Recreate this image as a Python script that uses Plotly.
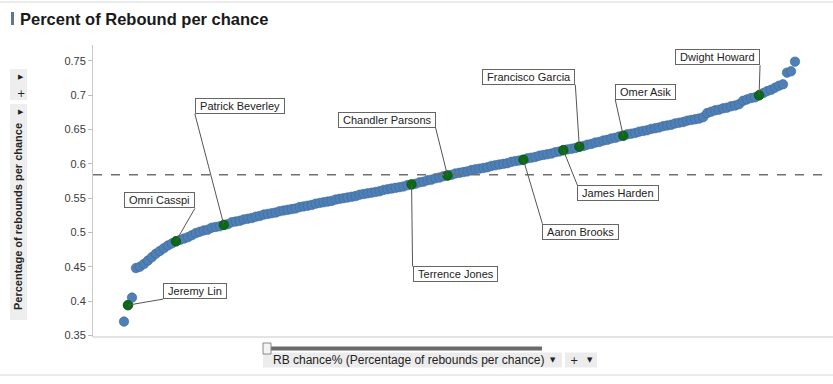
import plotly.graph_objects as go

# ---- data ----
rb_pct = [
    0.370, 0.394, 0.405, 0.448, 0.450, 0.454, 0.459, 0.464, 0.469, 0.473,
    0.477, 0.481, 0.484, 0.487, 0.489, 0.491, 0.493, 0.496, 0.499, 0.501,
    0.503, 0.504, 0.507, 0.508, 0.509, 0.511, 0.512, 0.515, 0.516, 0.517,
    0.519, 0.520, 0.521, 0.523, 0.524, 0.526, 0.527, 0.528, 0.529, 0.531,
    0.532, 0.533, 0.534, 0.535, 0.537, 0.538, 0.539, 0.540, 0.542, 0.543,
    0.544, 0.545, 0.546, 0.548, 0.549, 0.550, 0.551, 0.552, 0.553, 0.555,
    0.556, 0.557, 0.558, 0.559, 0.560, 0.562, 0.563, 0.564, 0.565, 0.566,
    0.567, 0.569, 0.570, 0.571, 0.573, 0.574, 0.576, 0.577, 0.579, 0.580,
    0.582, 0.583, 0.584, 0.586, 0.587, 0.588, 0.589, 0.591, 0.592, 0.593,
    0.594, 0.595, 0.597, 0.598, 0.599, 0.600, 0.601, 0.603, 0.604, 0.605,
    0.606, 0.608, 0.609, 0.610, 0.612, 0.613, 0.614, 0.615, 0.617, 0.618,
    0.620, 0.621, 0.622, 0.623, 0.625, 0.626, 0.628, 0.629, 0.631, 0.632,
    0.634, 0.635, 0.637, 0.638, 0.640, 0.641, 0.643, 0.644, 0.645, 0.647,
    0.648, 0.649, 0.651, 0.652, 0.653, 0.655, 0.656, 0.657, 0.659, 0.660,
    0.661, 0.663, 0.664, 0.665, 0.666, 0.668, 0.674, 0.676, 0.678, 0.679,
    0.681, 0.682, 0.684, 0.685, 0.687, 0.692, 0.694, 0.696, 0.697, 0.700,
    0.703, 0.706, 0.708, 0.711, 0.714, 0.716, 0.733, 0.735, 0.749,
]
rank = list(range(1, len(rb_pct) + 1))

highlight_names = ["Jeremy Lin", "Omri Casspi", "Patrick Beverley", "Terrence Jones",
                   "Chandler Parsons", "Aaron Brooks", "James Harden",
                   "Francisco Garcia", "Omer Asik", "Dwight Howard"]
highlight_rank = [2, 14, 26, 73, 82, 101, 111, 115, 126, 160]
highlight_val = [rb_pct[r - 1] for r in highlight_rank]

average_line = 0.584
y_ticks = [0.35, 0.4, 0.45, 0.5, 0.55, 0.6, 0.65, 0.7, 0.75]
y_tick_labels = ["0.35", "0.4", "0.45", "0.5", "0.55", "0.6", "0.65", "0.7", "0.75"]

# label placement: (ax, ay, xanchor, yanchor)
label_style = [
    (35, -6, "left", "bottom"),
    (19, -33, "right", "bottom"),
    (-29, -111, "left", "bottom"),
    (1, 82, "left", "top"),
    (-12, -48, "right", "bottom"),
    (19, 64, "left", "top"),
    (14, 35, "left", "top"),
    (-4, -62, "right", "bottom"),
    (-8, -36, "left", "bottom"),
    (1, -30, "right", "bottom"),
]

# ---- layout geometry ----
Wfig, Hfig = 833, 384
L, R, T, B = 93, 827, 45, 337
PW, PH = R - L, B - T


def fx(px):
    return (px - L) / PW


def fy(py):
    return (B - py) / PH


FONT = "Liberation Sans, Arial, sans-serif"

fig = go.Figure()
fig.add_trace(go.Scatter(
    x=rank, y=rb_pct, mode="markers",
    marker=dict(size=9.5, color="#4E7FB5", line=dict(width=0.6, color="#3C6A9A")),
    hoverinfo="y", showlegend=False))
fig.add_trace(go.Scatter(
    x=highlight_rank, y=highlight_val, mode="markers",
    marker=dict(size=9.5, color="#0B6B12", line=dict(width=0.6, color="#064A0A")),
    text=highlight_names, hoverinfo="text+y", showlegend=False))

annotations = []
for name, r, v, (ax, ay, xa, ya) in zip(highlight_names, highlight_rank, highlight_val, label_style):
    annotations.append(dict(
        x=r, y=v, xref="x", yref="y", text="\u00a0" + name + "\u00a0",
        showarrow=True, arrowhead=0, arrowwidth=1, arrowcolor="#555555",
        ax=ax, ay=ay, axref="pixel", ayref="pixel", xanchor=xa, yanchor=ya,
        bgcolor="white", bordercolor="#666666", borderwidth=1, borderpad=1,
        font=dict(family=FONT, size=11, color="#222222")))

# title
annotations.append(dict(x=fx(18), y=fy(19), xref="paper", yref="paper",
                        text="<b>Percent of Rebound per chance</b>", showarrow=False,
                        xanchor="left", yanchor="middle",
                        font=dict(family=FONT, size=16.5, color="#1a1a1a")))
# y-axis title
annotations.append(dict(x=fx(18), y=fy(217), xref="paper", yref="paper",
                        text="<b>Percentage of rebounds per chance</b>", showarrow=False,
                        textangle=-90, xanchor="center", yanchor="middle",
                        font=dict(family=FONT, size=11, color="#222222")))
# small controls on the left
for txt, yy, sz in [("\u25B6", 77, 7), ("+", 93, 10), ("\u25B6", 112, 7)]:
    annotations.append(dict(x=fx(21), y=fy(yy), xref="paper", yref="paper", text=txt,
                            showarrow=False, xanchor="center", yanchor="middle",
                            font=dict(family="DejaVu Sans", size=sz, color="#222222")))
# bottom pill
annotations.append(dict(x=fx(271), y=fy(360), xref="paper", yref="paper",
                        text="RB chance% (Percentage of rebounds per chance)", showarrow=False,
                        xanchor="left", yanchor="middle",
                        font=dict(family=FONT, size=12, color="#222222")))
for txt, xx, sz in [("\u25BC", 553, 7), ("+", 574, 10), ("\u25BC", 590, 7)]:
    annotations.append(dict(x=fx(xx), y=fy(360), xref="paper", yref="paper", text=txt,
                            showarrow=False, xanchor="center", yanchor="middle",
                            font=dict(family="DejaVu Sans", size=sz, color="#222222")))

shapes = [
    # average reference line
    dict(type="line", xref="paper", yref="y", x0=0, x1=1, y0=average_line, y1=average_line,
         line=dict(color="#707070", width=1.5, dash="dash")),
    # bottom axis line across
    dict(type="line", xref="paper", yref="paper", x0=fx(93), x1=fx(833), y0=0, y1=0,
         line=dict(color="#c8c8c8", width=1)),
    # top frame line
    dict(type="line", xref="paper", yref="paper", x0=fx(0), x1=fx(833), y0=fy(2), y1=fy(2),
         line=dict(color="#d6d6d6", width=1)),
    # bottom frame line
    dict(type="line", xref="paper", yref="paper", x0=fx(0), x1=fx(833), y0=fy(375), y1=fy(375),
         line=dict(color="#d6d6d6", width=1)),
    # title marker
    dict(type="rect", xref="paper", yref="paper", x0=fx(11), x1=fx(14), y0=fy(25), y1=fy(12),
         fillcolor="#5B7894", line=dict(width=0)),
    # left control boxes
    dict(type="rect", xref="paper", yref="paper", x0=fx(10), x1=fx(27), y0=fy(100), y1=fy(69),
         fillcolor="#eeeeee", line=dict(width=0), layer="below"),
    dict(type="rect", xref="paper", yref="paper", x0=fx(10), x1=fx(27), y0=fy(320), y1=fy(104),
         fillcolor="#eeeeee", line=dict(width=0), layer="below"),
    # slider bar and handle
    dict(type="rect", xref="paper", yref="paper", x0=fx(263), x1=fx(542), y0=fy(350.5), y1=fy(346.5),
         fillcolor="#6b6b6b", line=dict(width=0)),
    dict(type="rect", xref="paper", yref="paper", x0=fx(263), x1=fx(271), y0=fy(354), y1=fy(343),
         fillcolor="#f4f4f4", line=dict(width=1, color="#888888")),
    # pill boxes
    dict(type="rect", xref="paper", yref="paper", x0=fx(263), x1=fx(562), y0=fy(367.5), y1=fy(352.5),
         fillcolor="#ececec", line=dict(width=0), layer="below"),
    dict(type="rect", xref="paper", yref="paper", x0=fx(565), x1=fx(597), y0=fy(367.5), y1=fy(352.5),
         fillcolor="#ececec", line=dict(width=0), layer="below"),
]

step = 671 / 168.0
fig.update_layout(
    width=Wfig, height=Hfig,
    margin=dict(l=L, r=Wfig - R, t=T, b=Hfig - B, pad=0),
    paper_bgcolor="white", plot_bgcolor="white",
    font=dict(family=FONT, size=11, color="#444444"),
    xaxis=dict(range=[1 - (124 - L) / step, 1 + (R - 124) / step], showgrid=False,
               zeroline=False, showticklabels=False, ticks="", showline=False, fixedrange=True),
    yaxis=dict(range=[0.4 - (B - 301) / 686.0, 0.75 + (61 - T) / 686.0], showgrid=False,
               zeroline=False, tickvals=y_ticks, ticktext=y_tick_labels, ticks="outside",
               ticklen=4, tickcolor="#bbbbbb", showline=True, linecolor="#c8c8c8",
               tickfont=dict(family=FONT, size=11, color="#3a3a3a")),
    annotations=annotations, shapes=shapes, showlegend=False,
)

fig.write_html(
    "out.html",
    config={"displayModeBar": False},
    post_script="document.body.style.margin='0px';document.body.style.overflow='hidden';",
)
